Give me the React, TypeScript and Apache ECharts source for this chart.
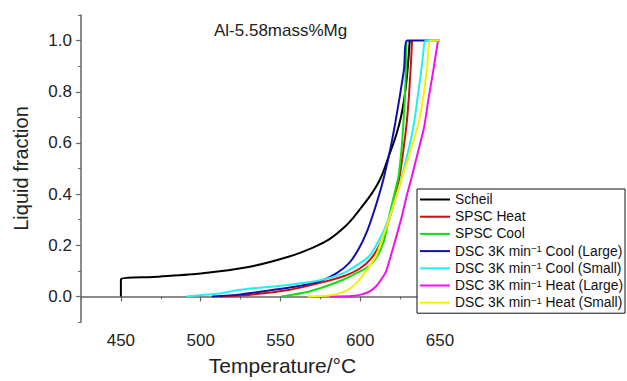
import React, { useEffect, useRef } from "react";
import * as echarts from "echarts";

const chartTitle = "Al-5.58mass%Mg";
const xName = "Temperature/°C";
const yName = "Liquid fraction";

const seriesNames = [
  "Scheil",
  "SPSC Heat",
  "SPSC Cool",
  "DSC 3K min−1 Cool (Large)",
  "DSC 3K min−1 Cool (Small)",
  "DSC 3K min−1 Heat (Large)",
  "DSC 3K min−1 Heat (Small)",
];
const seriesColors = ["#000000", "#cc1010", "#10e010", "#1010a8", "#20f0f0", "#f010f0", "#f4f000"];

const scheil = [
  [450, 0], [450, 0.066], [470, 0.076], [500, 0.09], [530, 0.115], [555, 0.155], [570, 0.19],
  [581, 0.225], [590, 0.27], [596, 0.31], [601, 0.35], [607, 0.4], [611, 0.44], [614, 0.48],
  [618, 0.55], [622, 0.62], [625.5, 0.7], [628.2, 0.8], [630, 0.91], [631, 1.0],
];
const spscHeat = [
  [512, 0], [530, 0.006], [555, 0.025], [576, 0.055], [590, 0.08], [600, 0.11], [607, 0.15],
  [612, 0.2], [617, 0.28], [620, 0.34], [622, 0.39], [625, 0.48], [627, 0.57], [629, 0.67],
  [630.5, 0.78], [631.6, 0.89], [632.5, 1.0],
];
const spscCool = [
  [550.5, 0], [568, 0.019], [589, 0.064], [599, 0.095], [605.5, 0.118], [611, 0.16], [615, 0.22],
  [618, 0.31], [621, 0.39], [624, 0.47], [625.8, 0.57], [627, 0.67], [628, 0.78], [628.6, 0.89], [629, 1.0],
];
const dscCoolLarge = [
  [507, 0], [525, 0.008], [547, 0.027], [565, 0.045], [575, 0.06], [585, 0.09], [593, 0.13],
  [599, 0.185], [604, 0.25], [608, 0.32], [612, 0.4], [615, 0.47], [619, 0.58], [622, 0.68],
  [625, 0.79], [627.5, 0.89], [629.5, 1.0], [650, 1.0],
];
const dscCoolSmall = [
  [491, 0], [510, 0.01], [526, 0.027], [555, 0.045], [574, 0.062], [589, 0.09], [601, 0.135],
  [606, 0.16], [610, 0.2], [615, 0.26], [620, 0.34], [625, 0.44], [629, 0.54], [632, 0.62],
  [634, 0.69], [636, 0.78], [638, 0.87], [639.5, 0.95], [641, 1.0], [650, 1.0],
];
const dscHeatLarge = [
  [581, 0], [595, 0.002], [601, 0.008], [606, 0.02], [610, 0.04], [613, 0.065], [616, 0.095],
  [619, 0.155], [622, 0.22], [626, 0.31], [629, 0.39], [632, 0.46], [636, 0.56], [640, 0.66],
  [643, 0.78], [646, 0.89], [648, 0.97], [649, 1.0], [650, 1.0],
];
const dscHeatSmall = [
  [567, 0], [580, 0.004], [588, 0.014], [594, 0.033], [598, 0.055], [602, 0.085], [606, 0.12],
  [610, 0.16], [614, 0.23], [618, 0.3], [622, 0.38], [625.5, 0.45], [630, 0.54], [634, 0.62],
  [637, 0.69], [640, 0.8], [642, 0.9], [644, 1.0], [650, 1.0],
];
const seriesData = [scheil, spscHeat, spscCool, dscCoolLarge, dscCoolSmall, dscHeatLarge, dscHeatSmall];

const xMajorTicks = [450, 500, 550, 600, 650];
const xMinorTicks = [425, 475, 525, 575, 625];
const yMajorTicks = [0, 0.2, 0.4, 0.6, 0.8, 1.0];
const yMinorTicks = [-0.1, 0.1, 0.3, 0.5, 0.7, 0.9, 1.1];

const FONT = "'Liberation Sans', Arial, Helvetica, sans-serif";
const AXIS_COLOR = "#666";

export default function App() {
  const ref = useRef<HTMLDivElement>(null);
  useEffect(() => {
    if (!ref.current) return;
    const chart = echarts.init(ref.current, null, { renderer: "svg" });
    const baseX = {
      type: "value",
      min: 425,
      max: 650,
      interval: 25,
      splitLine: { show: false },
    };
    const baseY = {
      type: "value",
      min: -0.1,
      max: 1.1,
      interval: 0.1,
      splitLine: { show: false },
    };
    const option: any = {
      animation: false,
      textStyle: { fontFamily: FONT },
      title: {
        text: chartTitle,
        left: 214,
        top: 22,
        padding: 0,
        textStyle: { fontFamily: FONT, fontSize: 17, fontWeight: "normal", color: "#222" },
      },
      grid: { left: 81, top: 15, width: 359, height: 310, containLabel: false },
      xAxis: [
        {
          ...baseX,
          name: xName,
          nameLocation: "middle",
          nameGap: 33,
          nameTextStyle: { fontFamily: FONT, fontSize: 21, color: "#222", padding: [0, 0, 0, 44] },
          axisLine: { show: true, lineStyle: { color: AXIS_COLOR, width: 1.5 } },
          axisTick: { show: true, inside: false, length: 5, customValues: xMajorTicks, lineStyle: { color: AXIS_COLOR, width: 1.2 } },
          axisLabel: {
            margin: 10,
            fontFamily: FONT,
            fontSize: 17,
            color: "#222",
            formatter: (v: number) => (Math.round(v) % 50 === 0 ? String(Math.round(v)) : ""),
          },
        },
        {
          ...baseX,
          position: "bottom",
          axisLine: { show: false },
          axisTick: { show: true, inside: false, length: 3, customValues: xMinorTicks, lineStyle: { color: AXIS_COLOR, width: 1 } },
          axisLabel: { show: false },
        },
      ],
      yAxis: [
        {
          ...baseY,
          name: yName,
          nameLocation: "middle",
          nameGap: 50,
          nameTextStyle: { fontFamily: FONT, fontSize: 20, color: "#222" },
          axisLine: { show: true, lineStyle: { color: AXIS_COLOR, width: 1.5 } },
          axisTick: { show: true, inside: false, length: 5, customValues: yMajorTicks, lineStyle: { color: AXIS_COLOR, width: 1.2 } },
          axisLabel: {
            margin: 9,
            fontFamily: FONT,
            fontSize: 17,
            color: "#222",
            formatter: (v: number) => {
              const k = Math.round(v * 10);
              return k >= 0 && k % 2 === 0 ? (k / 10).toFixed(1) : "";
            },
          },
        },
        {
          ...baseY,
          position: "left",
          axisLine: { show: false },
          axisTick: { show: true, inside: false, length: 3, customValues: yMinorTicks, lineStyle: { color: AXIS_COLOR, width: 1 } },
          axisLabel: { show: false },
        },
      ],
      legend: {
        orient: "vertical",
        left: 417,
        top: 189,
        padding: [3, 2, 3, 3],
        itemGap: 2.2,
        itemWidth: 30,
        itemHeight: 2,
        icon: "rect",
        borderColor: "#111",
        borderWidth: 1,
        borderRadius: 0,
        backgroundColor: "#fff",
        data: seriesNames,
        formatter: (name: string) => name.replace("min−1", "min{sup|−1}"),
        textStyle: {
          fontFamily: FONT,
          fontSize: 13.8,
          lineHeight: 15,
          color: "#111",
          rich: {
            sup: { fontFamily: FONT, fontSize: 9.5, lineHeight: 9, verticalAlign: "top", color: "#111" },
          },
        },
      },
      series: seriesNames.map((name, i) => ({
        name,
        type: "line",
        xAxisIndex: 0,
        yAxisIndex: 0,
        data: seriesData[i],
        showSymbol: false,
        symbol: "none",
        smooth: 0.25,
        color: seriesColors[i],
        lineStyle: { color: seriesColors[i], width: 2 },
        z: 2 + i,
      })),
    };
    chart.setOption(option);
    return () => chart.dispose();
  }, []);
  return (
    <div
      ref={ref}
      style={{ position: "fixed", left: 0, top: 0, width: 627, height: 381, background: "#fff" }}
    />
  );
}
